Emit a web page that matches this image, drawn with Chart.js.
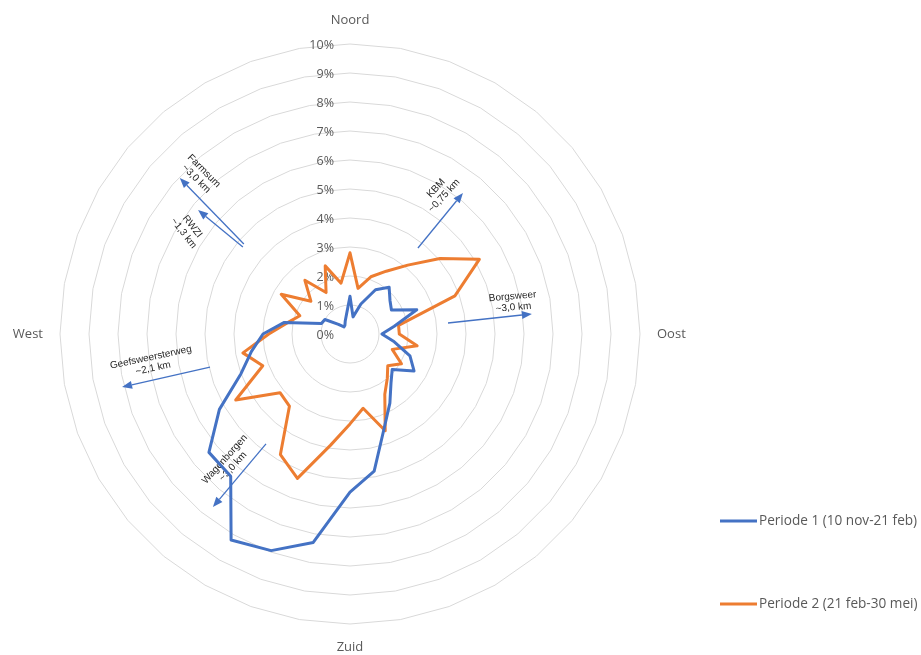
<!DOCTYPE html>
<html>
<head>
<meta charset="utf-8">
<title>Windroos periode 1 en 2</title>
<script src="https://cdn.jsdelivr.net/npm/chart.js@4.4.1/dist/chart.umd.min.js"></script>
<style>
  html, body { margin: 0; padding: 0; background: #fff; }
  #wrap { width: 921px; height: 655px; position: relative; }
</style>
</head>
<body>
<div id="wrap"><canvas id="myChart"></canvas></div>
<script>
"use strict";

// DATA - 36 directions, every 10 degrees starting at north, clockwise
const directions = [
  "Noord", "", "", "", "", "", "", "", "",
  "Oost", "", "", "", "", "", "", "", "",
  "Zuid", "", "", "", "", "", "", "", "",
  "West", "", "", "", "", "", "", "", ""
];
// percentage of time per direction
const periode1 = [
  1.3, 0.6, 1.1, 1.76, 2.1, 1.8, 1.65, 2.45, 1.55,
  1.1, 1.55, 2.2, 2.55, 1.9, 2.2, 2.75, 3.45, 4.8,
  5.45, 7.3, 7.95, 8.2, 6.4, 6.35, 5.2, 4.0, 3.45,
  3.0, 2.3, 1.05, 1.0, 0.52, 0.32, 0.35, 0.48, 0.69
];
const periode2 = [
  2.8, 1.6, 2.1, 2.5, 3.1, 4.05, 5.15, 3.85, 1.7,
  1.7, 2.35, 1.55, 2.05, 1.7, 2.0, 2.4, 3.55, 2.6,
  3.1, 3.9, 5.3, 4.8, 3.25, 3.15, 4.55, 3.2, 3.75,
  2.8, 2.2, 1.84, 2.74, 1.76, 2.42, 1.65, 2.5, 1.78
];
const seriesNames = ["Periode 1 (10 nov-21 feb)", "Periode 2 (21 feb-30 mei)"];
const seriesColors = ["#4472C4", "#ED7D31"];
const tickSuffix = "%";

// source arrows: [angle from north in degrees, value on the radial scale]
const arrows = [
  { name: "Farmsum", dist: "~3,0 km", from: [310.3, 4.8], to: [312.5, 7.96], text: [316.7, 7.54], rot: 45 },
  { name: "RWZI", dist: "~1,3 km", from: [309.1, 4.76], to: [309.2, 6.76], text: [302.7, 6.64], rot: 52 },
  { name: "KBM", dist: "~0,75 km", from: [38.3, 3.78], to: [38.7, 6.23], text: [32.4, 5.8], rot: -47 },
  { name: "Borgsweer", dist: "~3,0 km", from: [83.6, 3.4], to: [83.7, 6.31], text: [78.9, 5.73], rot: -5 },
  { name: "Geefsweersterweg", dist: "~2,1 km", from: [256.7, 4.96], to: [256.9, 8.07], text: [261.7, 6.9], rot: -12 },
  { name: "Wagenborgen", dist: "~3,0 km", from: [217.4, 4.77], to: [218.4, 7.61], text: [223.2, 6.1], rot: -48 }
];

// HELPER FUNCTIONS
const polar = function (scale, deg, value) {
  const d = scale.getDistanceFromCenterForValue(value);
  const a = (deg * Math.PI) / 180;
  return { x: scale.xCenter + d * Math.sin(a), y: scale.yCenter - d * Math.cos(a) };
};

const drawArrow = function (ctx, p0, p1, color) {
  const ang = Math.atan2(p1.y - p0.y, p1.x - p0.x);
  const headLen = 10, headW = 4;
  const bx = p1.x - headLen * Math.cos(ang);
  const by = p1.y - headLen * Math.sin(ang);
  ctx.strokeStyle = color;
  ctx.fillStyle = color;
  ctx.lineWidth = 1.3;
  ctx.beginPath();
  ctx.moveTo(p0.x, p0.y);
  ctx.lineTo(bx, by);
  ctx.stroke();
  ctx.beginPath();
  ctx.moveTo(p1.x, p1.y);
  ctx.lineTo(bx + headW * Math.sin(ang), by - headW * Math.cos(ang));
  ctx.lineTo(bx - headW * Math.sin(ang), by + headW * Math.cos(ang));
  ctx.closePath();
  ctx.fill();
};

// ticks, direction names and arrows are drawn under the lines
const radarDecor = {
  id: "radarDecor",
  beforeDatasetsDraw(chart) {
    const { ctx } = chart;
    const scale = chart.scales.r;
    ctx.save();

    // tick labels left of the vertical axis
    ctx.font = "12.5px 'Open Sans'";
    ctx.fillStyle = "#595959";
    ctx.textAlign = "right";
    ctx.textBaseline = "middle";
    scale.ticks.forEach((t) => {
      const y = scale.yCenter - scale.getDistanceFromCenterForValue(t.value);
      ctx.fillText(t.value + tickSuffix, scale.xCenter - 16, y + 1);
    });

    // direction names
    ctx.font = "13px 'Open Sans'";
    directions.forEach((lbl, i) => {
      if (!lbl) return;
      const p = scale.getPointPosition(i, scale.drawingArea + 17);
      const a = scale.getIndexAngle(i);
      const s = Math.sin(a), c = Math.cos(a);
      ctx.textAlign = Math.abs(s) < 0.01 ? "center" : s > 0 ? "left" : "right";
      ctx.textBaseline = Math.abs(c) < 0.01 ? "middle" : c > 0 ? "bottom" : "top";
      ctx.fillText(lbl, p.x, p.y);
    });

    // source arrows
    arrows.forEach((ar) => {
      drawArrow(ctx, polar(scale, ar.from[0], ar.from[1]), polar(scale, ar.to[0], ar.to[1]), seriesColors[0]);
      const t = polar(scale, ar.text[0], ar.text[1]);
      ctx.save();
      ctx.translate(t.x, t.y);
      ctx.rotate((ar.rot * Math.PI) / 180);
      ctx.font = "10px 'Liberation Sans'";
      ctx.fillStyle = "#262626";
      ctx.textAlign = "center";
      ctx.textBaseline = "middle";
      ctx.fillText(ar.name, 0, -5.5);
      ctx.fillText(ar.dist, 0, 5.5);
      ctx.restore();
    });
    ctx.restore();
  },
};

// legend on the lower right
const sideLegend = {
  id: "sideLegend",
  afterDraw(chart) {
    const { ctx } = chart;
    const ys = [521, 604];
    ctx.save();
    ctx.font = "13.6px 'Open Sans'";
    ctx.textAlign = "left";
    ctx.textBaseline = "middle";
    chart.data.datasets.forEach((ds, i) => {
      ctx.strokeStyle = ds.borderColor;
      ctx.lineWidth = 3;
      ctx.beginPath();
      ctx.moveTo(720, ys[i]);
      ctx.lineTo(757, ys[i]);
      ctx.stroke();
      ctx.fillStyle = "#595959";
      ctx.fillText(ds.label, 759, ys[i]);
    });
    ctx.restore();
  },
};

// MAIN
const data = {
  labels: directions,
  datasets: [
    {
      label: seriesNames[0],
      data: periode1,
      borderColor: seriesColors[0],
      backgroundColor: seriesColors[0],
    },
    {
      label: seriesNames[1],
      data: periode2,
      borderColor: seriesColors[1],
      backgroundColor: seriesColors[1],
    },
  ],
};

const config = {
  type: "radar",
  data: data,
  options: {
    responsive: true,
    maintainAspectRatio: false,
    animation: false,
    layout: { padding: { top: 44, right: 221, bottom: 31, left: 0 } },
    elements: {
      line: { borderWidth: 3, fill: false, tension: 0, borderJoinStyle: "round" },
      point: { radius: 0, hoverRadius: 0 },
    },
    scales: {
      r: {
        min: 0,
        max: 10,
        ticks: { display: false, stepSize: 1 },
        grid: { color: "#d9d9d9", lineWidth: 1 },
        angleLines: { display: false },
        pointLabels: { display: false },
      },
    },
    plugins: {
      legend: { display: false },
      tooltip: { enabled: false },
    },
  },
  plugins: [radarDecor, sideLegend],
};

const myChart = new Chart(document.getElementById("myChart"), config);
</script>
</body>
</html>
